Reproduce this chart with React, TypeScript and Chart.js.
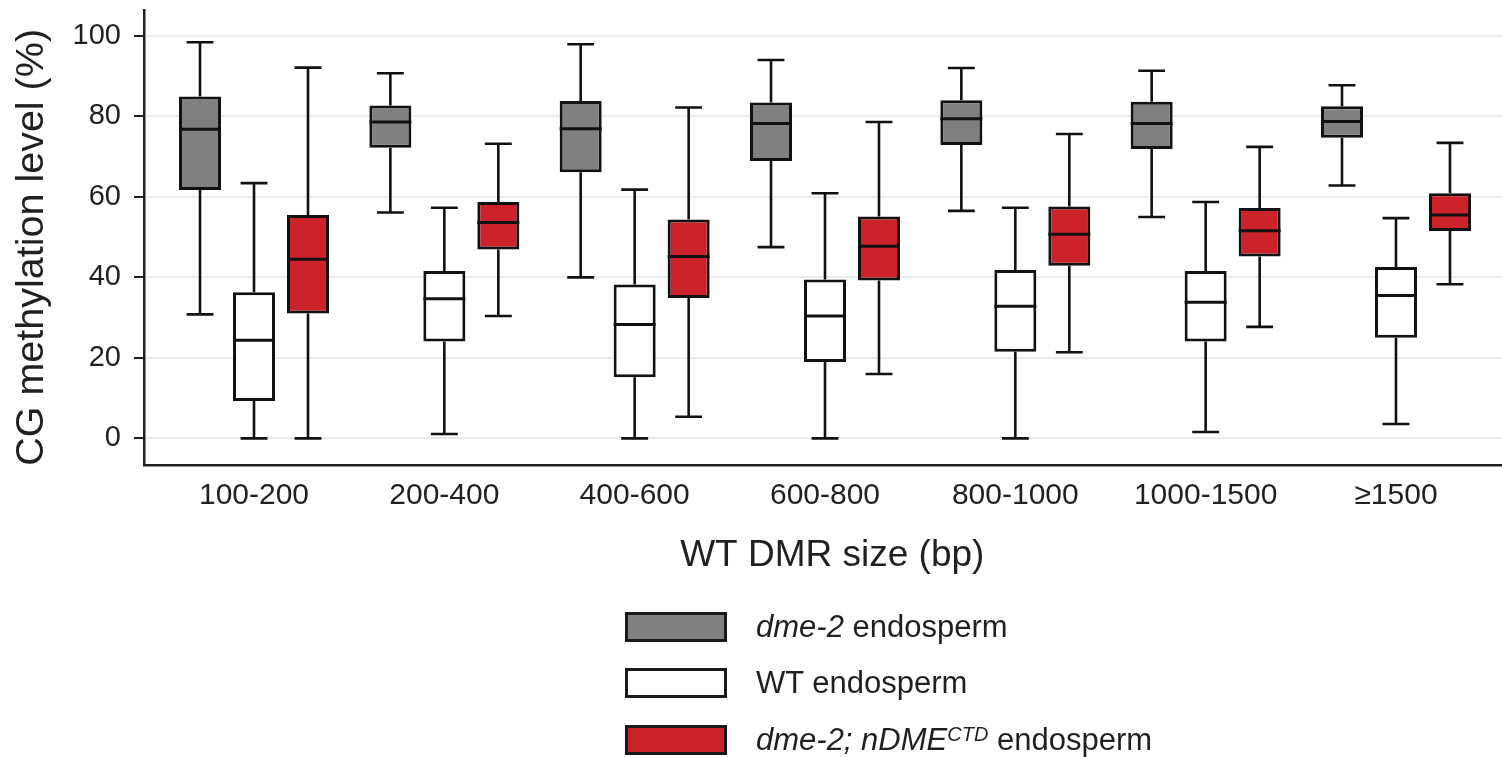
import React, { useEffect, useRef } from "react";
import { Chart, registerables } from "chart.js";

Chart.register(...registerables);

// ---- data ----
const categories = ["100-200", "200-400", "400-600", "600-800", "800-1000", "1000-1500", "≥1500"];
const yTicks = [0, 20, 40, 60, 80, 100];

// [min, q1, median, q3, max] per category
const dme2Stats = [
  [30.8, 61.7, 76.8, 84.9, 98.4],
  [56.1, 72.2, 78.6, 82.7, 90.7],
  [40.0, 66.1, 76.9, 83.8, 97.9],
  [47.5, 68.9, 78.2, 83.4, 94.0],
  [56.5, 72.9, 79.4, 84.0, 92.0],
  [55.0, 71.9, 78.2, 83.6, 91.3],
  [62.8, 74.7, 78.7, 82.5, 87.7],
];
const wtStats = [
  [0.0, 9.3, 24.4, 36.3, 63.4],
  [1.1, 24.1, 34.7, 41.6, 57.3],
  [0.0, 15.2, 28.3, 38.2, 61.8],
  [0.0, 19.0, 30.4, 39.5, 60.9],
  [0.0, 21.5, 32.8, 41.8, 57.3],
  [1.6, 24.1, 33.8, 41.6, 58.7],
  [3.6, 25.0, 35.5, 42.6, 54.7],
];
const ndmeStats = [
  [0.0, 31.0, 44.5, 55.5, 92.1],
  [30.4, 46.9, 53.6, 58.7, 73.2],
  [5.4, 34.9, 45.2, 54.4, 82.2],
  [16.0, 39.2, 47.7, 55.1, 78.6],
  [21.4, 42.9, 50.7, 57.6, 75.6],
  [27.7, 45.2, 51.6, 57.2, 72.4],
  [38.3, 51.5, 55.5, 60.9, 73.4],
];

const seriesNames = ["dme-2 endosperm", "WT endosperm", "dme-2; nDME CTD endosperm"];
const seriesColors = ["#808080", "#ffffff", "#cc2229"];
const allStats = [dme2Stats, wtStats, ndmeStats];

const TEXT = "#231f20";
const FONT = "'Liberation Sans', Arial, sans-serif";

const boxPlugin = {
  id: "boxWhiskers",
  afterDatasetsDraw(chart: any) {
    const { ctx } = chart;
    const y = chart.scales.y;
    chart.data.datasets.forEach((_ds: any, di: number) => {
      const meta = chart.getDatasetMeta(di);
      const stats = allStats[di];
      meta.data.forEach((bar: any, i: number) => {
        const { x, width } = bar.getProps(["x", "width"], true);
        const [mn, q1, med, q3, mx] = stats[i];
        const pMin = y.getPixelForValue(mn);
        const pQ1 = y.getPixelForValue(q1);
        const pMed = y.getPixelForValue(med);
        const pQ3 = y.getPixelForValue(q3);
        const pMax = y.getPixelForValue(mx);
        const cap = width * 0.64;
        ctx.save();
        ctx.strokeStyle = "#111111";
        ctx.lineCap = "butt";
        ctx.lineWidth = 2.6;
        ctx.beginPath();
        ctx.moveTo(x, pQ3);
        ctx.lineTo(x, pMax);
        ctx.moveTo(x - cap / 2, pMax);
        ctx.lineTo(x + cap / 2, pMax);
        ctx.moveTo(x, pQ1);
        ctx.lineTo(x, pMin);
        ctx.moveTo(x - cap / 2, pMin);
        ctx.lineTo(x + cap / 2, pMin);
        ctx.stroke();
        ctx.lineWidth = 3;
        ctx.beginPath();
        ctx.moveTo(x - width / 2, pMed);
        ctx.lineTo(x + width / 2, pMed);
        ctx.stroke();
        ctx.restore();
      });
    });
  },
};

function LegendRow({ color, top, children }: any) {
  return (
    <div style={{ position: "absolute", left: 0, top, width: 1502, height: 40 }}>
      <div
        style={{
          position: "absolute",
          left: 625,
          top: 5,
          width: 102,
          height: 30,
          boxSizing: "border-box",
          border: "3px solid #1a1a1a",
          background: color,
        }}
      />
      <div
        style={{
          position: "absolute",
          left: 756,
          top: 0,
          height: 40,
          lineHeight: "40px",
          fontFamily: FONT,
          fontSize: 31,
          color: TEXT,
          whiteSpace: "nowrap",
        }}
      >
        {children}
      </div>
    </div>
  );
}

export default function App() {
  const ref = useRef<HTMLCanvasElement>(null);

  useEffect(() => {
    if (!ref.current) return;
    const chart = new Chart(ref.current, {
      type: "bar",
      data: {
        datasets: allStats.map((stats, di) => ({
          label: seriesNames[di],
          data: stats.map((s, i) => ({ x: i, y: [s[1], s[3]] })),
          backgroundColor: seriesColors[di],
          borderColor: "#111111",
          borderWidth: 3,
          borderSkipped: false,
          categoryPercentage: 0.851,
          barPercentage: 0.778,
        })) as any,
      },
      options: {
        animation: false,
        responsive: false,
        maintainAspectRatio: false,
        layout: { padding: { top: 10, left: 0, right: 0, bottom: 0 } },
        plugins: {
          legend: { display: false },
          tooltip: { enabled: false },
        },
        scales: {
          x: {
            type: "linear",
            offset: false,
            min: -0.578,
            max: 6.557,
            afterBuildTicks: (scale: any) => {
              scale.ticks = categories.map((_, i) => ({ value: i }));
            },
            afterFit: (scale: any) => {
              scale.height = 292;
              scale.paddingLeft = 0;
              scale.paddingRight = 0;
            },
            grid: { display: false, drawTicks: false, offset: false },
            border: { display: true, color: TEXT, width: 2.5 },
            ticks: {
              padding: 12.5,
              color: TEXT,
              font: { family: FONT, size: 30 },
              autoSkip: false,
              maxRotation: 0,
              callback: (v: any) => categories[Math.round(v)] ?? "",
            },
            title: {
              display: true,
              text: "\u2002WT DMR size (bp)",
              color: TEXT,
              font: { family: FONT, size: 37 },
              padding: { top: 0, bottom: 179 },
            },
          },
          y: {
            type: "linear",
            min: -6.6,
            max: 106.4,
            afterBuildTicks: (scale: any) => {
              scale.ticks = yTicks.map((v) => ({ value: v }));
            },
            afterFit: (scale: any) => {
              scale.width = 144;
              scale.paddingTop = 0;
              scale.paddingBottom = 0;
            },
            grid: {
              color: "#ebebeb",
              lineWidth: 2,
              drawTicks: true,
              tickLength: 10,
              tickColor: TEXT,
              tickWidth: 2,
            },
            border: { display: true, color: TEXT, width: 2.5 },
            ticks: {
              padding: 13,
              color: TEXT,
              font: { family: FONT, size: 29 },
            },
            title: {
              display: true,
              text: "CG methylation level (%)\u2002",
              color: TEXT,
              font: { family: FONT, size: 39.5 },
              padding: { top: 8, bottom: 0 },
            },
          },
        },
      },
      plugins: [boxPlugin],
    });
    return () => chart.destroy();
  }, []);

  return (
    <div style={{ position: "absolute", left: 0, top: 0, width: 1502, height: 757, background: "#fff" }}>
      <canvas ref={ref} width={1502} height={757} style={{ display: "block", width: 1502, height: 757 }} />
      <LegendRow color={seriesColors[0]} top={607}>
        <i>dme-2</i> endosperm
      </LegendRow>
      <LegendRow color={seriesColors[1]} top={663}>
        WT endosperm
      </LegendRow>
      <LegendRow color={seriesColors[2]} top={720}>
        <i>
          dme-2; nDME<sup style={{ fontSize: 20, verticalAlign: "top", lineHeight: "28px" }}>CTD</sup>
        </i>{" "}
        endosperm
      </LegendRow>
    </div>
  );
}
